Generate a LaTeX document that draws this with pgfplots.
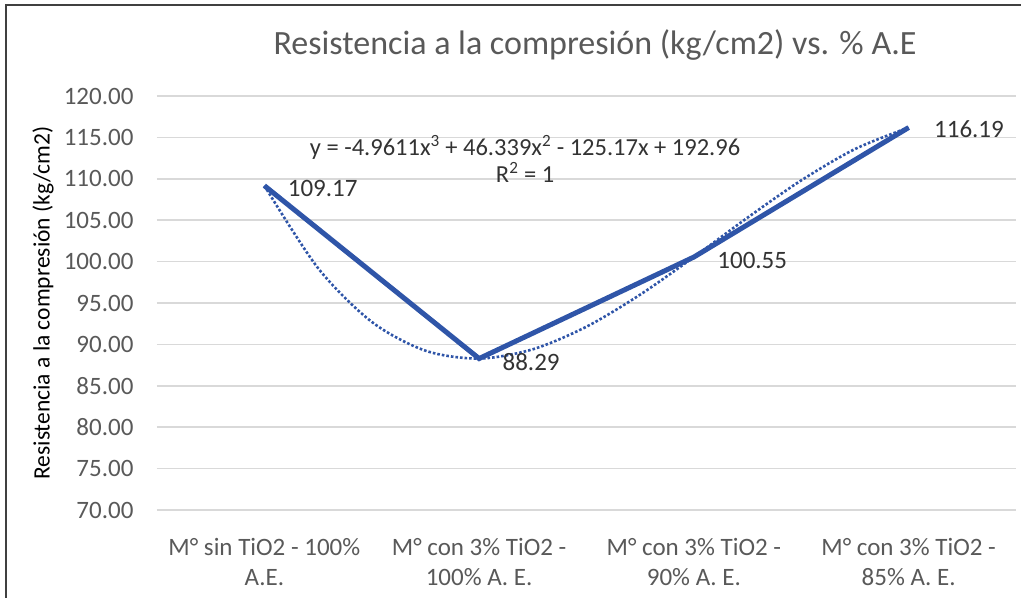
\documentclass[border=0pt]{standalone}
\usepackage{pgfplots}
\pgfplotsset{compat=1.18}
\usepackage{fontspec}
\setmainfont{Carlito}
\definecolor{lineblue}{RGB}{47,85,168}
\definecolor{gridgray}{RGB}{217,217,217}
\definecolor{txtgray}{RGB}{89,89,89}
\begin{document}
\begin{tikzpicture}
\useasboundingbox (-157bp,-88bp) rectangle (864bp,510bp);
\draw[line width=1.5bp, black!75] (-151bp,-90bp) -- (-151bp,505bp) -- (866bp,505bp);
\begin{axis}[
  at={(0,0)}, anchor=south west,
  scale only axis, width=859bp, height=414bp,
  xmin=-0.5, xmax=3.5, ymin=70, ymax=120,
  ytick={70,75,...,120},
  xtick={0,1,2,3},
  xticklabels={M° sin TiO2 - 100\%\\A.E., M° con 3\% TiO2 -\\100\% A. E., M° con 3\% TiO2 -\\90\% A. E., M° con 3\% TiO2 -\\85\% A. E.},
  xticklabel style={align=center, font=\fontsize{25bp}{30bp}\selectfont, text=txtgray, yshift=-25bp},
  yticklabel style={font=\fontsize{25bp}{28bp}\selectfont, text=txtgray, xshift=-20bp},
  /pgf/number format/assume math mode=true,
  yticklabel={\pgfmathprintnumber[fixed,fixed zerofill,precision=2]{\tick}},
  major tick length=0pt,
  ymajorgrids, grid style={gridgray, line width=1.6bp},
  axis line style={draw=none},
  axis x line*=bottom,
  clip=false,
]
\addplot[lineblue, line width=5bp] coordinates {(0,109.17) (1,88.29) (2,100.55) (3,116.19)};
\addplot[lineblue, line width=2.6bp, dotted, smooth] coordinates {
(0,109.17) (0.25,99.21) (0.5,92.72) (0.75,89.24) (1,88.29) (1.25,89.41) (1.5,92.14) (1.75,96.01) (2,100.55) (2.25,105.31) (2.5,109.81) (2.75,113.59) (3,116.19)};
\node[anchor=west, xshift=20bp, yshift=-3bp, text=black!80, font=\fontsize{25bp}{28bp}\selectfont] at (axis cs:0,109.17) {109.17};
\node[anchor=west, xshift=20bp, yshift=-3bp, text=black!80, font=\fontsize{25bp}{28bp}\selectfont] at (axis cs:1,88.29) {88.29};
\node[anchor=west, xshift=20bp, yshift=-3bp, text=black!80, font=\fontsize{25bp}{28bp}\selectfont] at (axis cs:2,100.55) {100.55};
\node[anchor=west, xshift=22bp, yshift=-2bp, text=black!80, font=\fontsize{25bp}{28bp}\selectfont] at (axis cs:3,116.19) {116.19};
\node[align=center, text=black!80, font=\fontsize{24.5bp}{27bp}\selectfont] at (axis cs:1.214,112.4) {y = -4.9611x\textsuperscript{3} + 46.339x\textsuperscript{2} - 125.17x + 192.96\\R\textsuperscript{2} = 1};
\node[text=txtgray, font=\fontsize{34bp}{40bp}\selectfont] at (rel axis cs:0.51,1) [yshift=51bp] {Resistencia a la compresión (kg/cm2) vs. \% A.E};
\node[xshift=-114bp, rotate=90, text=black, font=\fontsize{23.5bp}{28bp}\selectfont] at (rel axis cs:0,0.5) {Resistencia a la compresión (kg/cm2)};
\end{axis}
\end{tikzpicture}
\end{document}
